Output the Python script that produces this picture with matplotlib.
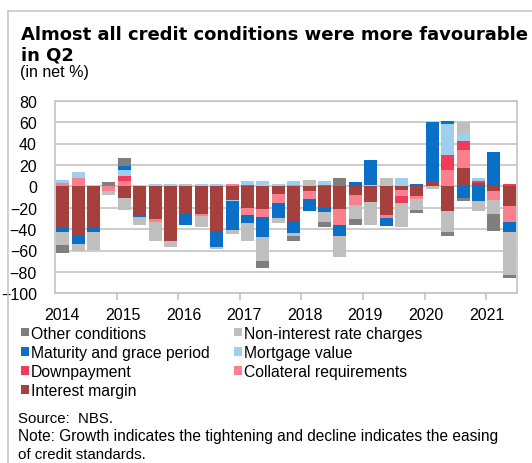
import numpy as np
import matplotlib
matplotlib.use("Agg")
import matplotlib.pyplot as plt
from matplotlib.patches import Rectangle
from matplotlib.lines import Line2D

plt.rcParams['font.family'] = ['Liberation Sans', 'DejaVu Sans']

# Quarterly survey results, 2014 Q1 - 2021 Q2 (net %)
years = ['2014', '2015', '2016', '2017', '2018', '2019', '2020', '2021']

interest_margin = [-38, -46, -38, 0, -11, -27, -31, -51.5, -25.5, -25.5,
                   -42, -12.5, -20, -21.5, -7, -32.5, -4.5, -20, -21.5, -8.5,
                   -15, -27, -3.5, -9, 4.7, -23.5, 17.1, 3.5, -4.5, -18]
collateral = [3, 8, 0, -4.5, 4.7, 0, -2, 0, 0, -2,
              0, 2, -7, -7.5, -9, 1.5, -7.5, 0, -15, -9,
              0, -3, -5.5, -3, 0, 15.5, 16.4, 0, -8, -15]
downpayment = [0, 0, 0, 0, 5, 0, 0, 0, 0, 0,
               0, 0, 1, 0, 0, 0, 0, 1.5, 0, 0,
               0, 0, -7, 0, 0, 13.3, 8.4, 1, 0, 2]
mortgage_value = [3, 5.5, 0, 0, 5.5, 0, 2, 2.5, 0, 2.2,
                  2.2, -1.5, 3.5, 4.5, 2.2, 3, 0, 3, 0, 0,
                  1, 0, 8, 0, 0, 29.2, 7.8, 3.3, 0, 0]
maturity = [-4.5, -7.5, -4.5, 0, 3.8, -2, 0, 0, -11, 0,
            -14.5, -26.8, -7.5, -18.5, -13.5, -11.5, -11, -4, -9.5, 4,
            24, -7.5, 0, 2, 55, 3.4, -10.8, -14, 32, -9.5]
non_interest = [-12.5, -7, -17, -4, -11, -7.5, -18, -5, 2, -10.5,
                -2, -3.5, -16.5, -22, -5, -2, 6, -9.5, -20, -13,
                -21.5, 8, -22, -10, -2.5, -19.5, 10.2, -9, -13, -40.5]
other = [-7, 0, 0, 4, 7, 0, 0, 0, 0, 0,
         0, 0, 0, -7, 0, -5, 0, -4.5, 8, -5.5,
         0, 0, 0, -3, 0, -3, -3.2, 0, -16.5, -3]

# stacking order from the zero line outwards
series = [
    ('Interest margin', interest_margin, '#a5403d'),
    ('Collateral requirements', collateral, '#fb808d'),
    ('Downpayment', downpayment, '#f03c5a'),
    ('Mortgage value', mortgage_value, '#9ecfee'),
    ('Maturity and grace period', maturity, '#0a6fc6'),
    ('Non-interest rate charges', non_interest, '#bfbfbf'),
    ('Other conditions', other, '#7f7f7f'),
]

W, H = 532, 464
fig = plt.figure(figsize=(W / 100, H / 100), dpi=100)


def fx(px):
    return px / W


def fy(py):
    return 1 - py / H


ax = fig.add_axes([fx(55), fy(294.3), fx(517) - fx(55), fy(101.7) - fy(294.3)])

n = len(interest_margin)
x = np.arange(n)
pos_base = np.zeros(n)
neg_base = np.zeros(n)
for name, vals, color in series:
    v = np.asarray(vals, dtype=float)
    bottom = np.where(v >= 0, pos_base, neg_base)
    ax.bar(x, v, bottom=bottom, width=0.85, color=color, linewidth=0, zorder=3)
    pos_base += np.where(v > 0, v, 0)
    neg_base += np.where(v < 0, v, 0)

grid_c = '#c4c4c4'
ax.set_xlim(-0.5, n - 0.5)
ax.set_ylim(-100, 80)
ax.set_yticks(np.arange(-100, 81, 20))
ax.yaxis.grid(True, color=grid_c, linewidth=1.2, zorder=0)
ax.set_axisbelow(True)
for s in ax.spines.values():
    s.set_color(grid_c)
    s.set_linewidth(1.2)

ax.tick_params(axis='y', length=0, pad=13, labelsize=11.5, colors='black')
year_pos = np.arange(len(years)) * 3.936 - 0.03
ax.set_xticks(year_pos)
ax.set_xticklabels(years)
ax.tick_params(axis='x', which='major', length=0, pad=10, labelsize=11.5)
ax.set_xticks(np.arange(3.5, n, 4), minor=True)
ax.tick_params(axis='x', which='minor', length=5, width=1.2, color=grid_c)

# titles
title_font = ['DejaVu Sans']
fig.text(fx(21), fy(39.5), 'Almost all credit conditions were more favourable',
         fontsize=13, fontweight='bold', family=title_font, ha='left',
         va='baseline')
fig.text(fx(21), fy(60.5), 'in Q2', fontsize=13, fontweight='bold',
         family=title_font, ha='left', va='baseline')
fig.text(fx(20.5), fy(77.5), '(in net %)', fontsize=11.5, ha='left', va='baseline')

# legend laid out row by row
legend_order = ['Other conditions', 'Non-interest rate charges',
                'Maturity and grace period', 'Mortgage value',
                'Downpayment', 'Collateral requirements', 'Interest margin']
colors = {name: c for name, _, c in series}
col_x = [20.7, 233.5]
row_y = [333, 352.3, 371.5, 390.7]
for i, name in enumerate(legend_order):
    cx = col_x[i % 2]
    cy = row_y[i // 2]
    fig.patches.append(Rectangle((fx(cx), fy(cy + 4.3)), fx(8.7), 8.7 / H,
                                 transform=fig.transFigure, color=colors[name],
                                 linewidth=0))
    fig.text(fx(cx + 10.3), fy(cy + 5.7), name, fontsize=11.3, ha='left',
             va='baseline')

fig.text(fx(18.3), fy(423.3), 'Source:  NBS.', fontsize=10.8, ha='left', va='baseline')
fig.text(fx(18.3), fy(441.5),
         'Note: Growth indicates the tightening and decline indicates the easing',
         fontsize=11.2, ha='left', va='baseline')
fig.text(fx(18.3), fy(459.3), 'of credit standards.', fontsize=10.8, ha='left',
         va='baseline')

# outer frame
frame_c = '#c8c8c8'
fig.lines.append(Line2D([fx(8.3), fx(8.3)], [fy(11.7), 0], transform=fig.transFigure,
                        color=frame_c, linewidth=1.2))
fig.lines.append(Line2D([fx(8.3), 1], [fy(11.7), fy(11.7)], transform=fig.transFigure,
                        color=frame_c, linewidth=1.2))

fig.savefig('out.png', dpi=100)
